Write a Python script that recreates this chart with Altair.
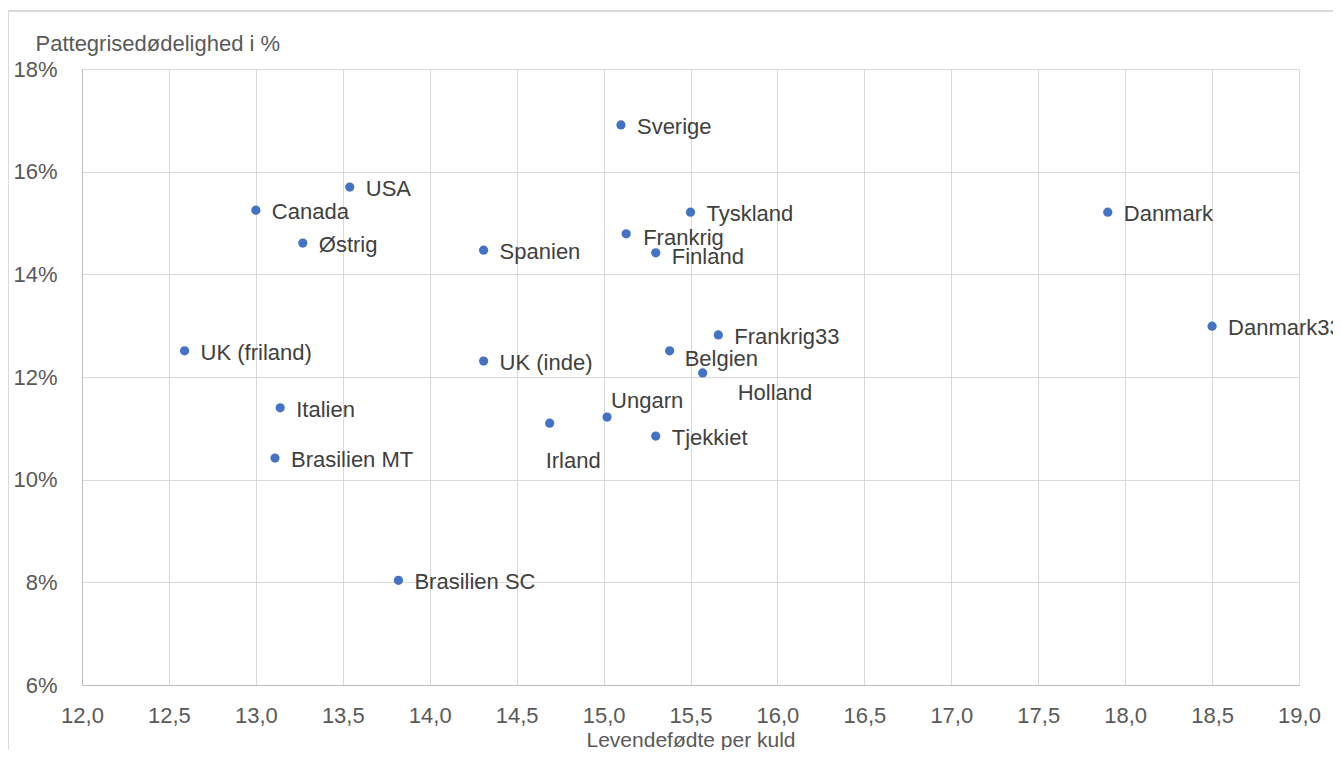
import altair as alt
import pandas as pd

countries = ["Sverige", "USA", "Canada", "Østrig", "Spanien", "Tyskland", "Frankrig",
             "Finland", "Danmark", "Danmark33", "Frankrig33", "Belgien", "Holland",
             "UK (friland)", "UK (inde)", "Italien", "Brasilien MT", "Ungarn", "Irland",
             "Tjekkiet", "Brasilien SC"]
born_alive = [15.10, 13.54, 13.00, 13.27, 14.31, 15.50, 15.13,
              15.30, 17.90, 18.50, 15.66, 15.38, 15.57,
              12.59, 14.31, 13.14, 13.11, 15.02, 14.69,
              15.30, 13.82]
mortality = [16.91, 15.70, 15.25, 14.61, 14.47, 15.21, 14.79,
             14.42, 15.21, 12.99, 12.82, 12.51, 12.08,
             12.51, 12.31, 11.40, 10.42, 11.22, 11.10,
             10.85, 8.04]

x_ticks = [12.0, 12.5, 13.0, 13.5, 14.0, 14.5, 15.0, 15.5, 16.0, 16.5, 17.0, 17.5, 18.0, 18.5, 19.0]
y_ticks = [0.06, 0.08, 0.10, 0.12, 0.14, 0.16, 0.18]

df = pd.DataFrame({
    "land": countries,
    "x": born_alive,
    "y": [v / 100 for v in mortality],
})

FONT = "Liberation Sans"
FS = 22
W, H = 1217, 616

xenc = alt.X("x:Q", scale=alt.Scale(domain=[12, 19], nice=False, zero=False),
             axis=alt.Axis(values=x_ticks, title="Levendefødte per kuld",
                           labelExpr="replace(format(datum.value, '.1f'), '.', ',')",
                           grid=True, ticks=False, tickSize=0, labelPadding=20,
                           labelFlush=False, labelOverlap=False,
                           titleBaseline="alphabetic", titleY=61,
                           labelFontSize=FS, titleFontSize=21,
                           labelColor="#595959", titleColor="#595959",
                           titleFontWeight="normal", labelFont=FONT, titleFont=FONT,
                           gridColor="#D9D9D9", domainColor="#BFBFBF"))
yenc = alt.Y("y:Q", scale=alt.Scale(domain=[0.06, 0.18], nice=False, zero=False),
             axis=alt.Axis(values=y_ticks, format=".0%", title="Pattegrisedødelighed i %",
                           grid=True, ticks=False, tickSize=0, labelPadding=25,
                           labelFlush=False, labelOverlap=False,
                           labelFontSize=FS, titleFontSize=FS, labelColor="#595959",
                           titleColor="#595959", titleFontWeight="normal",
                           labelFont=FONT, titleFont=FONT, titleAngle=0,
                           titleX=-47, titleY=-26, titleAlign="left",
                           titleBaseline="middle",
                           gridColor="#D9D9D9", domainColor="#BFBFBF"))

base = alt.Chart(df).encode(x=xenc, y=yenc)

points = base.mark_circle(size=85, color="#4472C4", opacity=1)

specials = {
    "Frankrig": (17, 4),
    "Finland": (16, 4),
    "Belgien": (15, 8),
    "Ungarn": (4, -16),
    "Irland": (-4, 38),
    "Holland": (35, 20),
}

labels_default = base.mark_text(align="left", baseline="middle", dx=16, dy=2,
                                fontSize=FS, font=FONT, color="#404040").encode(
    text="land:N"
).transform_filter(
    ~alt.FieldOneOfPredicate(field="land", oneOf=list(specials.keys()))
)

layers = [points, labels_default]
for name, (ddx, ddy) in specials.items():
    layers.append(
        base.mark_text(align="left", baseline="middle", dx=ddx, dy=ddy,
                       fontSize=FS, font=FONT, color="#404040").encode(
            text="land:N"
        ).transform_filter(alt.datum.land == name)
    )

frame_left = alt.Chart(df).mark_rule(color="#D9D9D9", strokeWidth=1).encode(
    x=alt.value(-74), y=alt.value(-58), y2=alt.value(H + 80))
frame_top = alt.Chart(df).mark_rule(color="#D9D9D9", strokeWidth=1).encode(
    x=alt.value(-74), x2=alt.value(W + 40), y=alt.value(-58))

chart = alt.layer(frame_left, frame_top, *layers).properties(
    width=W, height=H,
    padding={"left": 74, "top": 61, "right": 34, "bottom": 65},
    autosize=alt.AutoSizeParams(type="none"),
).configure_view(stroke=None)

chart.save("out.html", embed_options={"renderer": "svg", "actions": False})
